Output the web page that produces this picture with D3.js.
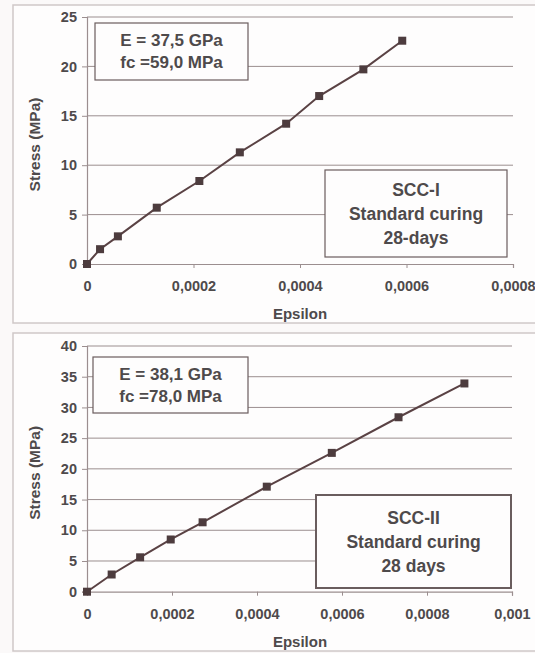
<!DOCTYPE html>
<html>
<head>
<meta charset="utf-8">
<script src="https://cdn.jsdelivr.net/npm/d3@7"></script>
<style>
  body { margin: 0; background: #fbf9f9; }
  svg { display: block; font-family: "Liberation Sans", Arial, sans-serif; font-weight: bold; }
</style>
</head>
<body>
<svg id="chart" width="535" height="653"></svg>
<script>
// SCC-I, standard curing, 28 days
const epsilonI = [0, 0.0000245, 0.000058, 0.000131, 0.000211, 0.000287, 0.000374, 0.000436, 0.000519, 0.000592];
const stressI  = [0, 1.5, 2.8, 5.7, 8.4, 11.3, 14.2, 17.0, 19.7, 22.6];
const yTicksI = [0, 5, 10, 15, 20, 25];
const xTicksI = [0, 0.0002, 0.0004, 0.0006, 0.0008];
const infoI = ["E = 37,5 GPa", "fc =59,0 MPa"];
const labelI = ["SCC-I", "Standard curing", "28-days"];

// SCC-II, standard curing, 28 days
const epsilonII = [0, 0.000058, 0.000125, 0.000197, 0.000272, 0.000423, 0.000576, 0.000733, 0.000888];
const stressII  = [0, 2.8, 5.6, 8.5, 11.3, 17.1, 22.6, 28.4, 33.9];
const yTicksII = [0, 5, 10, 15, 20, 25, 30, 35, 40];
const xTicksII = [0, 0.0002, 0.0004, 0.0006, 0.0008, 0.001];
const infoII = ["E = 38,1 GPa", "fc =78,0 MPa"];
const labelII = ["SCC-II", "Standard curing", "28 days"];

const svg = d3.select('#chart');
const textColor = '#4e4a4b';
const gridColor = '#9b8e8f';
const lineColor = '#5a4244';
const fmt = d => d === 0 ? '0' : String(+d.toFixed(4)).replace('.', ',');

function drawPanel(p) {
  svg.append('rect')
    .attr('x', p.frame[0]).attr('y', p.frame[1])
    .attr('width', p.frame[2]).attr('height', p.frame[3])
    .attr('fill', '#fefdfd').attr('stroke', '#cfc8c8').attr('stroke-width', 1.5);

  const x = d3.scaleLinear().domain([0, d3.max(p.xTicks)]).range([p.left, p.right]);
  const y = d3.scaleLinear().domain([0, d3.max(p.yTicks)]).range([p.bottom, p.top]);

  const g = svg.append('g');

  // gridlines
  g.selectAll('.grid').data(p.yTicks.filter(d => d > 0)).join('line')
    .attr('x1', p.left).attr('x2', p.right)
    .attr('y1', d => y(d)).attr('y2', d => y(d))
    .attr('stroke', gridColor).attr('stroke-width', 1);

  const yAxis = g.append('g').attr('transform', `translate(${p.left},0)`)
    .call(d3.axisLeft(y).tickValues(p.yTicks).tickSize(5).tickPadding(5).tickFormat(d => d));
  const xAxis = g.append('g').attr('transform', `translate(0,${p.bottom})`)
    .call(d3.axisBottom(x).tickValues(p.xTicks).tickSize(4).tickPadding(13).tickFormat(fmt));
  [yAxis, xAxis].forEach(a => {
    a.select('.domain').attr('stroke', gridColor).attr('stroke-width', 1.2);
    a.selectAll('.tick line').attr('stroke', gridColor);
    a.selectAll('.tick text').attr('fill', textColor).attr('font-size', 14.5)
      .attr('font-family', '"Liberation Sans", Arial, sans-serif').attr('font-weight', 'bold');
  });
  xAxis.selectAll('.tick').filter(d => d === 0).select('line').remove();

  // axis titles
  g.append('text')
    .attr('transform', `translate(${p.left - 47},${(p.top + p.bottom) / 2 + 4}) rotate(-90)`)
    .attr('text-anchor', 'middle').attr('fill', textColor).attr('font-size', 15.5)
    .text('Stress (MPa)');
  g.append('text')
    .attr('x', 300).attr('y', p.bottom + 55)
    .attr('text-anchor', 'middle').attr('fill', textColor).attr('font-size', 15)
    .text('Epsilon');

  const pts = p.eps.map((e, i) => ({e, s: p.stress[i]}));
  g.append('path').datum(pts)
    .attr('fill', 'none').attr('stroke', lineColor).attr('stroke-width', 2)
    .attr('d', d3.line().x(d => x(d.e)).y(d => y(d.s)));
  g.selectAll('.pt').data(pts).join('rect')
    .attr('x', d => x(d.e) - 4).attr('y', d => y(d.s) - 4)
    .attr('width', 8).attr('height', 8)
    .attr('fill', '#4d3c3e');

  // info boxes
  const box = (b, lines, size, gap, sw) => {
    g.append('rect').attr('x', b[0]).attr('y', b[1]).attr('width', b[2]).attr('height', b[3])
      .attr('fill', '#fefdfd').attr('stroke', '#6a5d5e').attr('stroke-width', sw);
    const mid = b[1] + b[3] / 2;
    lines.forEach((t, i) => {
      g.append('text')
        .attr('x', b[0] + b[2] / 2)
        .attr('y', mid + (i - (lines.length - 1) / 2) * gap)
        .attr('dy', '0.35em').attr('text-anchor', 'middle')
        .attr('fill', textColor).attr('font-size', size).text(t);
    });
  };
  box(p.infoBox, p.info, 17, 22, 1.2);
  box(p.labelBox, p.label, 17.5, 24, p.labelStroke);
}

drawPanel({
  frame: [13, 5, 530, 318],
  left: 87, right: 513, top: 17, bottom: 264,
  xTicks: xTicksI, yTicks: yTicksI, eps: epsilonI, stress: stressI,
  info: infoI, label: labelI,
  infoBox: [95, 23, 153, 57], labelBox: [325, 170, 182, 87], labelStroke: 1.2
});

drawPanel({
  frame: [13, 333, 530, 318],
  left: 87, right: 512, top: 346, bottom: 591.7,
  xTicks: xTicksII, yTicks: yTicksII, eps: epsilonII, stress: stressII,
  info: infoII, label: labelII,
  infoBox: [93, 357, 155, 56], labelBox: [316, 495, 195, 93], labelStroke: 2
});
</script>
</body>
</html>
